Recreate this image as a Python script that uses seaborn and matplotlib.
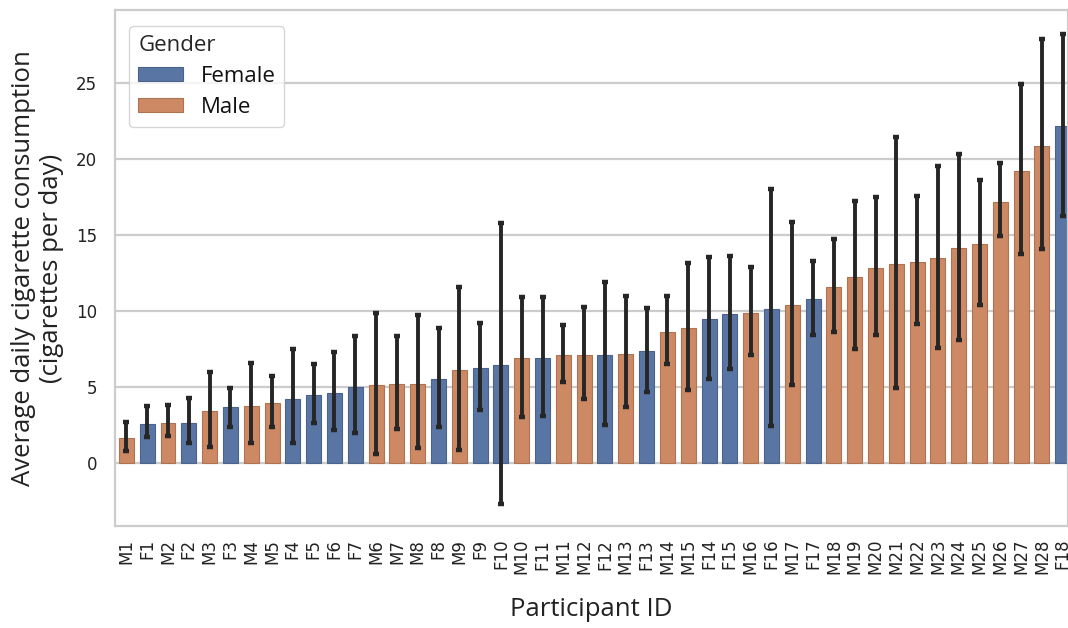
import numpy as np
import pandas as pd
import matplotlib
matplotlib.use('Agg')
import matplotlib.pyplot as plt
import matplotlib.colors as mcolors
import seaborn as sns

participants = ['M1', 'F1', 'M2', 'F2', 'M3', 'F3', 'M4', 'M5', 'F4', 'F5', 'F6', 'F7',
                'M6', 'M7', 'M8', 'F8', 'M9', 'F9', 'F10', 'M10', 'F11', 'M11', 'M12',
                'F12', 'M13', 'F13', 'M14', 'M15', 'F14', 'F15', 'M16', 'F16', 'M17',
                'F17', 'M18', 'M19', 'M20', 'M21', 'M22', 'M23', 'M24', 'M25', 'M26',
                'M27', 'M28', 'F18']
mean_cigs = [1.63, 2.60, 2.67, 2.67, 3.44, 3.71, 3.78, 3.96, 4.25, 4.46, 4.64, 5.02,
             5.14, 5.20, 5.20, 5.54, 6.15, 6.27, 6.45, 6.90, 6.90, 7.08, 7.08,
             7.13, 7.19, 7.35, 8.60, 8.89, 9.46, 9.80, 9.89, 10.14, 10.36,
             10.81, 11.58, 12.22, 12.85, 13.08, 13.19, 13.46, 14.14, 14.37, 17.15,
             19.19, 20.81, 22.13]
ci_low = [0.79, 1.70, 1.76, 1.31, 1.06, 2.38, 1.36, 2.38, 1.36, 2.65, 2.19, 1.97,
          0.61, 2.26, 1.02, 2.38, 0.90, 3.51, -2.71, 3.05, 3.10, 5.32, 4.19,
          2.53, 3.67, 4.68, 6.49, 4.80, 5.54, 6.22, 7.13, 2.44, 5.14,
          8.44, 8.64, 7.51, 8.42, 4.93, 9.16, 7.58, 8.10, 10.41, 14.89,
          13.73, 14.10, 16.24]
ci_high = [2.71, 3.73, 3.80, 4.30, 6.00, 4.91, 6.56, 5.72, 7.47, 6.49, 7.29, 8.37,
           9.84, 8.33, 9.73, 8.87, 11.58, 9.23, 15.77, 10.93, 10.93, 9.05, 10.29,
           11.92, 10.97, 10.18, 10.97, 13.17, 13.51, 13.62, 12.90, 18.03, 15.84,
           13.28, 14.75, 17.19, 17.49, 21.45, 17.53, 19.52, 20.32, 18.62, 19.73,
           24.89, 27.83, 28.21]
gender = ['Female' if p.startswith('F') else 'Male' for p in participants]

df = pd.DataFrame({'participant': participants, 'cigs': mean_cigs,
                   'low': ci_low, 'high': ci_high, 'Gender': gender})

sns.set_theme(style='whitegrid')
plt.rcParams['font.family'] = ['Open Sans', 'DejaVu Sans']

fig = plt.figure(figsize=(10.68, 6.28), dpi=100)
ax = fig.add_axes([0.108, 0.162, 0.892, 0.822])

palette = {'Female': '#4c72b0', 'Male': '#dd8452'}
sns.barplot(data=df, x='participant', y='cigs', hue='Gender', order=participants,
            hue_order=['Female', 'Male'], palette=palette, dodge=False,
            saturation=0.75, width=0.72, errorbar=None, ax=ax)

# thin darker outline on each bar, like the original
for p in ax.patches:
    fc = np.array(mcolors.to_rgb(p.get_facecolor()))
    p.set_edgecolor(fc * 0.85)
    p.set_linewidth(0.8)

pos = np.arange(len(participants))
yerr = [df['cigs'] - df['low'], df['high'] - df['cigs']]
ax.errorbar(pos, df['cigs'], yerr=yerr, fmt='none', ecolor='#262626',
            elinewidth=2.8, capsize=2.2, capthick=3.2, zorder=5)

ax.set_xlim(-0.53, 45.25)
ax.set_ylim(-4.14, 29.76)
ax.set_yticks([0, 5, 10, 15, 20, 25])
ax.grid(axis='y', color='#cccccc', linewidth=1.6)
ax.grid(axis='x', visible=False)
for s in ax.spines.values():
    s.set_color('#cccccc')
    s.set_linewidth(1.6)

ax.tick_params(axis='x', labelrotation=90, labelsize=12, pad=3)
ax.tick_params(axis='y', labelsize=12, pad=7)
for lbl in ax.get_xticklabels() + ax.get_yticklabels():
    lbl.set_fontfamily('DejaVu Sans')
    lbl.set_color('#222222')

ax.set_xlabel('Participant ID', fontsize=18.5, labelpad=16, color='#222222')
ax.set_ylabel('Average daily cigarette consumption\n(cigarettes per day)', fontsize=18.5,
              labelpad=9, color='#222222', linespacing=1.15)

leg = ax.legend(title='Gender', loc='upper left', fontsize=16, title_fontsize=16,
                frameon=True, edgecolor='#cccccc', handlelength=2.0, handleheight=0.6,
                borderpad=0.4, labelspacing=0.45, alignment='left',
                bbox_to_anchor=(0.003, 0.99))
for t in leg.get_texts():
    t.set_color('#111111')

fig.savefig('out.png', dpi=100)
